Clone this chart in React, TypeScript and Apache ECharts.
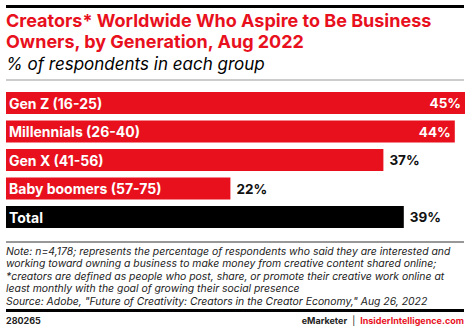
import React, { useEffect, useRef } from "react";
import * as echarts from "echarts";

const categories = ["Gen Z (16-25)", "Millennials (26-40)", "Gen X (41-56)", "Baby boomers (57-75)", "Total"];
const values = [45, 44, 37, 22, 39];
const barColors = ["#e8101d", "#e8101d", "#e8101d", "#e8101d", "#000000"];
const insideThreshold = 40;

const titleLines = [
  "Creators* Worldwide Who Aspire to Be Business",
  "Owners, by Generation, Aug 2022",
];
const subtitle = "% of respondents in each group";
const noteLines = [
  "Note: n=4,178; represents the percentage of respondents who said they are interested and",
  "working toward owning a business to make money from creative content shared online;",
  "*creators are defined as people who post, share, or promote their creative work online at",
  "least monthly with the goal of growing their social presence",
  'Source: Adobe, "Future of Creativity: Creators in the Creator Economy," Aug 26, 2022',
];
const chartId = "280265";

const RED = "#e8101d";
const FONT = "Inter, 'Noto Sans', sans-serif";

export default function App() {
  const ref = useRef<HTMLDivElement>(null);
  useEffect(() => {
    if (!ref.current) return;
    const chart = echarts.init(ref.current, null, { renderer: "svg" });
    const graphics: any[] = [
      { type: "rect", shape: { x: 6, y: 5, width: 458, height: 3 }, style: { fill: "#000" } },
      ...titleLines.map((t, i) => ({
        type: "text", left: 6, top: 11 + i * 21,
        style: { text: t, font: `bold 18px ${FONT}`, fill: RED },
      })),
      { type: "text", left: 6, top: 55, style: { text: subtitle, font: `italic 17px ${FONT}`, fill: "#000" } },
      { type: "rect", shape: { x: 6, y: 79.5, width: 458, height: 1 }, style: { fill: "#999" } },
      { type: "rect", shape: { x: 6, y: 241.5, width: 458, height: 1 }, style: { fill: "#333" } },
      ...noteLines.map((t, i) => ({
        type: "text", left: 6, top: 245.5 + i * 12.4,
        style: { text: t, font: `italic 10.4px ${FONT}`, fill: "#222", lineHeight: 12 },
      })),
      { type: "rect", shape: { x: 6, y: 309, width: 458, height: 3 }, style: { fill: "#000" } },
      { type: "text", left: 6, top: 315.5, style: { text: chartId, font: `bold 9px ${FONT}`, fill: "#222" } },
      {
        type: "text", right: 6, top: 315.5,
        style: {
          text: "{a|eMarketer}{s|  |  }{b|InsiderIntelligence.com}",
          rich: {
            a: { font: `bold 9px ${FONT}`, fill: "#222" },
            s: { font: `9px ${FONT}`, fill: "#222" },
            b: { font: `bold 9px ${FONT}`, fill: RED },
          },
        },
      },
    ];

    chart.setOption({
      animation: false,
      grid: { left: 6, right: 5, top: 88.75, height: 142.5, containLabel: false },
      xAxis: { type: "value", min: 0, max: 45, show: false },
      yAxis: { type: "category", data: categories, inverse: true, show: false },
      series: [
        {
          type: "bar",
          barWidth: 22,
          data: values.map((v, i) => ({ value: v, itemStyle: { color: barColors[i] } })),
          label: {
            show: true, position: "insideLeft", formatter: "{b}", distance: 3,
            color: "#fff", fontFamily: FONT, fontWeight: "bold", fontSize: 14,
          },
        },
        {
          type: "bar",
          barWidth: 22,
          barGap: "-100%",
          silent: true,
          data: values.map((v) => ({
            value: v,
            itemStyle: { color: "transparent" },
            label: v >= insideThreshold
              ? { position: "insideRight", color: "#fff", distance: 4 }
              : { position: "right", color: "#111", distance: 6 },
          })),
          label: {
            show: true, formatter: "{c}%",
            fontFamily: FONT, fontWeight: "bold", fontSize: 13.5,
          },
        },
      ],
      graphic: graphics,
    });
    return () => chart.dispose();
  }, []);
  return <div ref={ref} style={{ width: 470, height: 331, position: "absolute", left: 0, top: 0 }} />;
}
